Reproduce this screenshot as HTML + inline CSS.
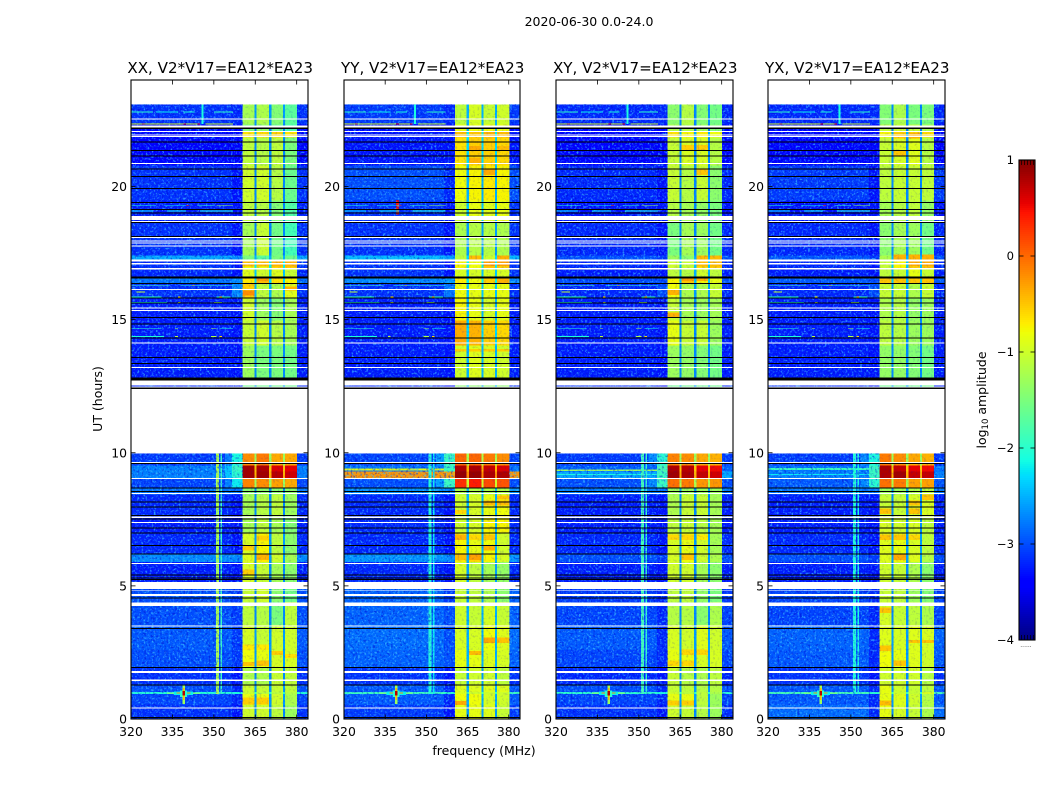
<!DOCTYPE html>
<html><head><meta charset="utf-8">
<style>
html,body{margin:0;padding:0;background:#fff}
svg{display:block}
text{font-family:"DejaVu Sans","Liberation Sans",sans-serif;fill:#000}
</style></head>
<body>
<svg id="fig" xmlns="http://www.w3.org/2000/svg" width="1050" height="800" viewBox="0 0 1050 800">
<defs>
<filter id="speck" x="0" y="0" width="100%" height="100%">
<feTurbulence type="fractalNoise" baseFrequency="0.48" numOctaves="2" seed="7"/>
<feColorMatrix type="matrix" values="0 0 0 0 0.05  0 0 0 0 0.55  0 0 0 0 1  2.6 2.6 0 0 -2.6"/>
</filter>
<filter id="speckDark" x="0" y="0" width="100%" height="100%">
<feTurbulence type="fractalNoise" baseFrequency="0.45" numOctaves="2" seed="23"/>
<feColorMatrix type="matrix" values="0 0 0 0 0  0 0 0 0 0  0 0 0 0 0.6  3 3 0 0 -3.1"/>
</filter>
</defs>
<text x="589" y="26" font-size="12.5" text-anchor="middle">2020-06-30 0.0-24.0</text>
<text x="484" y="755" font-size="12.5" text-anchor="middle">frequency (MHz)</text>
<text transform="translate(102,399) rotate(-90)" font-size="12.5" text-anchor="middle">UT (hours)</text>
<text transform="translate(986,400) rotate(-90)" font-size="12.5" text-anchor="middle">log<tspan font-size="8.5" dy="2">10</tspan><tspan dy="-2"> amplitude</tspan></text>
<g id="panels"></g>
<g id="cbar"></g>
</svg>
<script>
// ---- Axis ticks and labels
const freqTicks = [320, 335, 350, 365, 380];
const utTicks = [0, 5, 10, 15, 20];
const cbarTicks = [1, 0, -1, -2, -3, -4];
const panelTitles = ["XX, V2*V17=EA12*EA23", "YY, V2*V17=EA12*EA23", "XY, V2*V17=EA12*EA23", "YX, V2*V17=EA12*EA23"];

// ---- Time boundaries (UT hours) of the bands, top to bottom
const utEdges = [23.08,22.33,22.06,21.84,20.79,19.47,18.65,17.41,17.26,16.92,16.55,16.36,15.83,14.97,14.03,12.83,12.40,9.98,9.53,9.30,9.04,8.67,8.44,7.62,6.98,6.19,5.89,5.14,4.39,3.53,2.59,1.95,1.28,1.01,0.94,0.53,0];

// ---- Frequency blocks: edges in MHz and which band column feeds each block
const freqEdges = [320,350.7,351.8,352.4,352.9,356.5,360.4,364.7,365.5,370,370.8,375,375.8,380.2,384.1];
const freqSource = ["bg","bg","bg","bg","bg","ramp","b1","gap","b2","gap","b3","gap","b4","bg"];

// ---- log10 amplitude per band: bg, ramp, b1, b2, b3, b4, gap
const xxValues = [
[-3.15,-3.2,-1.25,-1.2,-1.45,-1.7,-2.6],[-3.4,-3.4,-1.5,-1.4,-1.6,-1.8,-2.8],[-3.4,-3.4,-0.65,-0.6,-0.55,-0.65,-2.4],[-3.4,-3.4,-1.1,-1.15,-1.1,-1.5,-2.7],
[-3.15,-3.3,-1.0,-1.0,-1.15,-1.6,-2.7],[-3.25,-3.3,-1.1,-1.15,-1.45,-1.75,-2.7],[-3.15,-3.3,-1.25,-1.05,-1.55,-1.85,-2.7],[-2.55,-2.7,-1.5,-1.7,-1.5,-1.6,-2.5],
[-3.15,-3.3,-0.8,-0.85,-0.6,-0.55,-2.2],[-3.2,-3.3,-0.9,-1.0,-0.9,-1.05,-2.4],[-2.8,-2.7,-0.7,-0.45,-0.65,-0.75,-2.3],[-3.15,-2.7,-0.55,-1.1,-1.2,-0.9,-2.5],
[-3.25,-3.3,-1.0,-1.3,-1.45,-1.25,-2.7],[-3.25,-3.3,-1.05,-1.0,-1.15,-1.25,-2.7],[-3.25,-3.3,-1.3,-1.5,-1.5,-1.55,-2.7],[-3.2,-3.3,-1.6,-1.6,-1.6,-1.6,-2.6],
null,
[-3.1,-2.1,-0.2,-0.1,-0.35,-0.35,-1.3],[-2.75,-1.9,0.85,0.8,0.6,0.55,-0.5],[-2.75,-2.0,0.85,0.85,0.75,0.65,-0.4],[-3.05,-2.2,-0.15,-0.2,-0.3,-0.35,-1.3],
[-2.8,-2.8,-1.4,-1.4,-1.4,-1.4,-2.7],[-3.2,-3.3,-1.25,-1.15,-1.1,-1.3,-2.7],[-3.25,-3.3,-1.25,-1.1,-1.25,-1.45,-2.7],[-3.2,-3.3,-0.95,-0.75,-1.1,-1.4,-2.6],
[-2.7,-2.7,-0.9,-0.7,-1.0,-1.25,-2.6],[-3.25,-3.3,-0.95,-1.05,-1.25,-1.4,-2.7],[-3.0,-3.1,-1.05,-1.0,-1.4,-1.55,-2.7],[-3.0,-3.1,-1.1,-1.15,-1.5,-1.1,-2.7],
[-2.95,-3.1,-0.95,-1.05,-1.0,-1.0,-2.6],[-3.0,-3.1,-0.8,-0.85,-0.95,-0.95,-2.6],[-3.15,-3.3,-1.2,-1.2,-1.05,-1.1,-2.7],[-3.0,-3.2,-1.0,-1.05,-1.05,-1.1,-2.6],
[-2.05,-2.1,-1.0,-1.1,-1.1,-1.15,-2.0],[-3.05,-3.2,-0.85,-0.85,-1.0,-1.2,-2.6],[-3.15,-3.3,-1.0,-1.0,-1.1,-1.3,-2.7]];
const yyValues = [
[-3.1,-3.2,-1.1,-0.95,-1.05,-1.0,-2.5],[-3.35,-3.4,-0.85,-0.85,-0.8,-0.85,-2.5],[-3.3,-3.3,-0.45,-0.5,-0.4,-0.45,-2.2],[-3.3,-3.3,-0.65,-0.55,-0.55,-0.6,-2.3],
[-3.0,-3.2,-0.8,-0.75,-0.7,-0.75,-2.5],[-3.15,-3.3,-1.0,-0.85,-0.9,-0.85,-2.4],[-3.15,-3.3,-1.2,-1.15,-1.15,-1.2,-2.6],[-2.45,-2.6,-1.1,-1.1,-1.0,-1.0,-2.3],
[-3.15,-3.3,-0.75,-0.8,-0.5,-0.55,-2.2],[-3.15,-3.3,-0.95,-0.95,-0.95,-0.95,-2.4],[-2.7,-2.6,-0.7,-0.8,-0.55,-0.4,-2.2],[-3.15,-2.8,-0.8,-0.85,-0.85,-0.85,-2.4],
[-3.25,-3.3,-0.75,-0.85,-0.95,-0.85,-2.5],[-3.25,-3.3,-0.35,-0.4,-0.55,-0.6,-2.3],[-3.25,-3.3,-1.0,-0.9,-0.95,-1.0,-2.5],[-3.2,-3.3,-1.4,-1.4,-1.4,-1.4,-2.5],
null,
[-3.05,-1.9,0.0,0.0,-0.1,-0.2,-1.2],[-2.8,-1.9,0.8,0.8,0.7,0.6,-0.4],[-0.25,-0.3,0.9,0.9,0.8,0.8,-0.2],[-3.0,-1.9,0.3,0.4,0.15,0.1,-1.0],
[-2.65,-2.7,-1.2,-1.2,-1.2,-1.2,-2.5],[-3.2,-3.3,-1.0,-0.95,-0.85,-0.8,-2.5],[-3.2,-3.3,-1.0,-0.95,-0.75,-0.75,-2.5],[-3.2,-3.3,-0.75,-0.85,-0.8,-1.0,-2.5],
[-2.65,-2.7,-0.7,-0.6,-0.75,-0.95,-2.5],[-3.2,-3.3,-0.95,-1.1,-1.25,-1.35,-2.6],[-2.9,-3.1,-1.05,-1.1,-1.2,-1.4,-2.6],[-2.9,-3.0,-1.0,-1.05,-0.95,-1.05,-2.5],
[-2.85,-3.0,-0.95,-0.95,-0.8,-0.9,-2.5],[-2.9,-3.0,-0.85,-0.85,-0.9,-0.95,-2.5],[-3.15,-3.3,-1.05,-1.0,-1.0,-1.1,-2.6],[-2.95,-3.2,-0.9,-0.9,-0.9,-0.9,-2.5],
[-1.9,-2.0,-0.9,-1.0,-1.0,-1.0,-1.9],[-2.95,-3.2,-0.8,-0.8,-0.95,-1.0,-2.5],[-3.1,-3.3,-0.85,-0.85,-0.9,-1.05,-2.6]];
const xyValues = [
[-3.2,-3.2,-1.4,-1.15,-1.45,-1.55,-2.7],[-3.45,-3.4,-1.2,-1.2,-1.3,-1.45,-2.8],[-3.4,-3.4,-0.65,-0.75,-0.7,-0.8,-2.5],[-3.4,-3.4,-1.05,-0.95,-0.95,-1.15,-2.7],
[-3.2,-3.3,-1.05,-1.15,-1.05,-1.4,-2.7],[-3.3,-3.3,-1.15,-1.25,-1.35,-1.5,-2.7],[-3.2,-3.3,-1.5,-1.25,-1.3,-1.55,-2.7],[-3.0,-3.1,-1.3,-1.4,-0.8,-0.6,-2.5],
[-3.2,-3.3,-1.0,-1.05,-0.65,-0.55,-2.4],[-3.25,-3.3,-1.1,-1.15,-1.0,-1.1,-2.5],[-3.0,-3.0,-0.75,-0.5,-0.75,-0.85,-2.4],[-3.2,-3.0,-0.8,-1.2,-1.2,-1.05,-2.6],
[-3.25,-3.3,-1.05,-1.25,-1.3,-1.25,-2.7],[-3.25,-3.3,-0.85,-1.05,-1.05,-1.3,-2.7],[-3.25,-3.3,-1.3,-1.35,-1.45,-1.55,-2.7],[-3.2,-3.3,-1.6,-1.6,-1.6,-1.6,-2.6],
null,
[-3.1,-2.0,-0.15,-0.2,-0.35,-0.4,-1.3],[-2.9,-1.8,0.8,0.75,0.55,0.5,-0.5],[-2.55,-1.9,0.85,0.8,0.7,0.65,-0.4],[-3.0,-1.9,-0.05,-0.1,-0.25,-0.25,-1.2],
[-2.75,-2.8,-1.3,-1.3,-1.3,-1.3,-2.6],[-3.25,-3.3,-1.2,-1.05,-1.05,-1.25,-2.7],[-3.25,-3.3,-1.1,-1.05,-1.15,-1.25,-2.7],[-3.2,-3.3,-0.95,-0.85,-1.0,-1.25,-2.6],
[-3.0,-3.1,-0.95,-0.8,-1.0,-1.2,-2.6],[-3.25,-3.3,-1.0,-1.0,-1.25,-1.4,-2.7],[-3.1,-3.2,-1.1,-1.1,-1.35,-1.5,-2.7],[-3.05,-3.2,-1.15,-1.15,-1.4,-1.2,-2.7],
[-2.95,-3.2,-0.95,-1.0,-0.9,-1.0,-2.6],[-3.05,-3.2,-0.85,-0.85,-0.95,-0.95,-2.6],[-3.2,-3.3,-1.05,-1.15,-1.2,-1.1,-2.7],[-3.0,-3.2,-1.05,-1.1,-1.15,-1.15,-2.6],
[-2.0,-2.1,-1.0,-1.1,-1.1,-1.2,-2.0],[-3.05,-3.2,-0.85,-0.85,-1.1,-1.3,-2.6],[-3.15,-3.3,-1.0,-1.05,-1.15,-1.3,-2.7]];
const yxValues = [
[-3.2,-3.2,-1.45,-1.2,-1.5,-1.5,-2.7],[-3.4,-3.4,-1.1,-1.05,-1.1,-1.25,-2.8],[-3.4,-3.4,-0.75,-0.55,-0.55,-0.6,-2.5],[-3.4,-3.4,-1.05,-0.95,-0.9,-1.15,-2.7],
[-3.1,-3.3,-1.1,-1.05,-1.05,-1.1,-2.7],[-3.3,-3.3,-1.25,-1.15,-1.1,-1.35,-2.7],[-3.2,-3.3,-1.4,-1.25,-1.3,-1.55,-2.7],[-2.95,-3.1,-1.2,-1.1,-0.9,-0.8,-2.5],
[-3.2,-3.3,-1.05,-0.75,-0.55,-0.5,-2.4],[-3.25,-3.3,-1.1,-1.05,-0.85,-1.05,-2.5],[-2.95,-3.0,-0.85,-0.8,-0.65,-0.8,-2.4],[-3.2,-3.0,-1.05,-1.05,-1.2,-1.05,-2.6],
[-3.25,-3.3,-1.2,-1.15,-1.35,-1.3,-2.7],[-3.25,-3.3,-1.1,-1.15,-1.3,-1.3,-2.7],[-3.25,-3.3,-1.35,-1.35,-1.45,-1.55,-2.7],[-3.2,-3.3,-1.6,-1.6,-1.6,-1.6,-2.6],
null,
[-3.1,-2.1,-0.1,-0.2,-0.35,-0.4,-1.3],[-2.8,-1.9,0.8,0.7,0.55,0.5,-0.5],[-2.75,-1.9,0.8,0.85,0.7,0.7,-0.4],[-2.95,-2.0,-0.05,-0.1,-0.3,-0.3,-1.2],
[-2.8,-2.8,-1.3,-1.3,-1.2,-1.1,-2.6],[-3.25,-3.3,-1.05,-1.05,-0.95,-0.95,-2.7],[-3.25,-3.3,-0.95,-1.0,-0.95,-1.1,-2.7],[-3.2,-3.3,-0.9,-0.85,-0.95,-1.1,-2.6],
[-3.0,-3.1,-0.9,-0.75,-0.9,-1.15,-2.6],[-3.25,-3.3,-1.0,-1.05,-1.2,-1.4,-2.7],[-3.05,-3.2,-1.05,-1.1,-1.3,-1.45,-2.7],[-3.05,-3.2,-0.95,-1.05,-1.1,-1.2,-2.7],
[-2.9,-3.2,-0.9,-0.95,-0.9,-0.95,-2.6],[-2.95,-3.2,-0.8,-0.85,-0.9,-1.0,-2.6],[-3.15,-3.3,-1.0,-1.0,-1.0,-1.15,-2.7],[-2.95,-3.2,-0.85,-1.0,-1.05,-1.1,-2.6],
[-1.85,-2.0,-0.85,-1.0,-1.05,-0.95,-1.9],[-2.95,-3.2,-0.85,-0.9,-1.0,-1.15,-2.6],[-2.85,-3.2,-0.85,-0.95,-1.05,-1.2,-2.7]];
const panelValues = [xxValues, yyValues, xyValues, yxValues];

// ---- Warm patches inside the bright bands: utLo, utHi, subband (0-3), log10 amplitude
const xxPatches = [[17.0,17.2,0,-0.45],[17.0,17.2,1,-0.45],[17.0,17.2,2,-0.4],[17.0,17.2,3,-0.4],[16.45,16.6,1,-0.3],[16.1,16.25,3,-0.4],[15.9,16.1,0,-0.2],[6.7,6.9,1,-0.55],[6.32,6.5,0,-0.55],[5.98,6.18,1,-0.4],[5.42,5.62,0,-0.55],[2.6,2.8,0,-0.7],[2.6,2.8,1,-0.7],[2.4,2.55,2,-0.55],[2.3,2.45,3,-0.65],[2.0,2.15,0,-0.5],[2.0,2.2,1,-0.5],[0.55,0.8,0,-0.55],[0.55,0.8,1,-0.55]];
const yyPatches = [[21.88,22.05,0,-0.45],[21.33,21.53,1,-0.35],[21.33,21.53,3,-0.45],[20.88,21.08,1,-0.4],[20.43,20.63,2,-0.35],[17.25,17.4,1,-0.45],[17.25,17.4,3,-0.4],[17.01,17.2,2,-0.3],[17.01,17.2,3,-0.3],[13.8,13.9,0,-0.55],[13.8,13.9,1,-0.55],[13.8,13.9,2,-0.55],[13.8,13.9,3,-0.55],[8.25,8.4,3,-0.5],[8.01,8.2,2,-0.45],[8.01,8.2,3,-0.45],[7.7,7.85,0,-0.6],[6.73,6.93,0,-0.4],[6.73,6.93,1,-0.6],[6.73,6.93,2,-0.5],[6.32,6.52,2,-0.4],[5.98,6.18,0,-0.45],[5.98,6.18,1,-0.3],[2.86,3.06,2,-0.35],[2.86,3.06,3,-0.5],[2.4,2.55,1,-0.45],[0.52,0.68,0,-0.35]];
const xyPatches = [[21.36,21.56,1,-0.55],[21.36,21.56,2,-0.55],[20.43,20.63,2,-0.5],[17.0,17.4,2,-0.45],[17.0,17.4,3,-0.45],[16.45,16.62,1,-0.3],[16.45,16.62,2,-0.4],[15.92,16.12,0,-0.4],[15.06,15.26,0,-0.4],[6.73,6.93,0,-0.6],[6.73,6.93,1,-0.6],[6.73,6.93,2,-0.7],[5.98,6.18,1,-0.5],[2.41,2.61,1,-0.6],[2.41,2.61,2,-0.6],[2.0,2.2,0,-0.6],[2.0,2.2,1,-0.6],[0.5,0.7,0,-0.55],[0.5,0.7,1,-0.55]];
const yxPatches = [[21.81,22.01,1,-0.5],[21.81,22.01,2,-0.4],[21.14,21.34,1,-0.5],[17.24,17.44,1,-0.4],[17.24,17.44,2,-0.4],[17.24,17.44,3,-0.4],[17.01,17.21,2,-0.35],[17.01,17.21,3,-0.35],[16.37,16.55,0,-0.5],[16.37,16.55,1,-0.5],[16.37,16.55,2,-0.5],[16.37,16.55,3,-0.5],[8.01,8.21,2,-0.5],[8.23,8.43,3,-0.5],[7.7,7.9,0,-0.5],[7.7,7.9,2,-0.5],[6.73,6.93,0,-0.5],[6.73,6.93,1,-0.5],[6.73,6.93,2,-0.6],[5.98,6.18,1,-0.35],[3.99,4.19,0,-0.5],[2.56,2.76,0,-0.5],[2.86,2.96,2,-0.5],[2.86,2.96,3,-0.5],[2.0,2.2,1,-0.5],[0.5,0.7,0,-0.45]];
const panelPatches = [xxPatches, yyPatches, xyPatches, yxPatches];
const subbandColumns = [6, 8, 10, 12];

// ---- Narrow interference lines (UT span, then per-panel level)
const rfiSpan = [0.7, 9.98];
const rfiAByPanel = [-1.2, -2.05, -1.85, -2.05];
const rfiBByPanel = [-1.9, -2.2, -1.95, -2.1];

// ---- Short interference features: freqLo, freqHi, utLo, utHi, log10 amplitude
const sharedFeatures = [
[345.5,346.2,22.35,23.08,-2.1],
[320,328,22.78,22.81,-2.0],[329,337,22.78,22.81,-2.2],[339,343,22.78,22.81,-2.1],[350,357,22.78,22.81,-2.0],
[320,345,22.33,22.37,-0.9],[347,357,22.33,22.37,-1.0],[324,325,22.33,22.37,-0.2],[339,340,22.33,22.37,0.6],[344,345,22.33,22.37,0.5],
[320,329,19.28,19.31,-2.1],[332,340,19.28,19.31,-2.2],[344,350,19.28,19.31,-2.0],[351,357,19.28,19.31,-1.4],[340,341,19.28,19.31,0.3],
[320,328,19.06,19.09,-2.3],[333,340,19.06,19.09,-2.2],[345,357,19.06,19.09,-2.1],
[320,334,16.26,16.29,-1.9],[338,357,16.26,16.29,-2.0],[342,343,16.26,16.29,-0.7],[322,325,16.02,16.06,-1.1],
[320,331,15.84,15.87,-2.0],[337,338,15.84,15.87,-0.7],[351,356,15.84,15.87,-2.0],[352,353,15.84,15.87,-0.5],
[320,333,15.63,15.66,-2.1],[337,338,15.63,15.66,-1.0],[350,353,15.63,15.66,-1.4],
[320,331,14.66,14.69,-2.0],[336,337,14.66,14.69,-1.2],[349,351,14.66,14.69,-1.3],[352,357,14.66,14.69,-2.1],
[320,332,14.35,14.38,-2.1],[336,337,14.35,14.38,-1.1],[349,351,14.35,14.38,-1.2],[352,353,14.35,14.38,-0.6],
[333,345,0.94,1.0,-1.6],[335.5,342.5,0.9,1.04,-2.2],[336.5,341.5,0.96,1.0,-0.2],
[337.8,340.2,0.82,1.08,-2.0],[338.6,339.5,0.56,1.3,-1.3],[338.8,339.3,0.72,1.16,-0.4],[338.6,339.5,0.88,1.06,0.75]];
const xxFeatures = [[354,356.5,8.67,9.98,-2.75],[354,356.5,9.04,9.53,-2.4]];
const yyFeatures = [[339,340,18.95,19.5,0.45],[320,356.5,9.33,9.40,-0.85],[353.5,356.5,9.53,9.98,-2.6],[353.5,356.5,8.67,9.04,-2.6]];
const xyFeatures = [[320,356.5,9.31,9.38,-1.25],[320,356.5,9.16,9.2,-2.1],[353.5,356.5,9.53,9.98,-2.7],[353.5,356.5,8.67,9.04,-2.7]];
const yxFeatures = [[320,356.5,9.35,9.42,-1.9],[320,356.5,9.16,9.2,-2.2],[353.5,356.5,9.53,9.98,-2.7],[353.5,356.5,8.67,9.04,-2.7]];
const panelFeatures = [xxFeatures, yyFeatures, xyFeatures, yxFeatures];

// ---- Flagged time ranges drawn as white / black stripes (UT hours lo, hi)
const whiteFlags = [[22.52,22.56],[22.21,22.30],[22.04,22.08],[21.91,21.95],[21.85,21.89],[20.85,20.89],[18.75,18.89],[18.67,18.71],[18.06,18.10],[17.93,17.97],[17.85,17.89],[17.75,17.79],[17.19,17.26],[17.08,17.12],[16.89,16.93],[16.12,16.15],[15.41,15.45],[15.33,15.37],[14.11,14.15],[13.18,13.22],[12.53,12.72],[12.46,12.49],[9.61,9.65],[9.01,9.05],[8.45,8.49],[7.55,7.61],[7.36,7.40],[5.82,5.86],[4.88,5.14],[4.82,4.85],[4.62,4.69],[4.24,4.38],[3.48,3.52],[1.73,1.80],[1.42,1.48],[0.40,0.44]];
const blackFlags = [[22.16,22.21],[21.65,21.69],[21.33,21.37],[21.13,21.17],[20.64,20.68],[20.36,20.40],[19.90,19.94],[19.38,19.42],[19.12,19.16],[18.98,19.02],[18.63,18.67],[18.11,18.15],[16.55,16.62],[16.33,16.37],[15.79,15.83],[15.60,15.64],[15.06,15.10],[14.81,14.85],[14.29,14.33],[13.55,13.59],[13.33,13.37],[12.72,12.83],[12.40,12.46],[9.57,9.61],[8.65,8.69],[8.52,8.56],[8.13,8.17],[7.95,7.99],[7.63,7.67],[7.50,7.54],[7.16,7.20],[6.97,7.01],[6.50,6.54],[6.17,6.21],[5.39,5.43],[5.28,5.32],[5.22,5.26],[4.53,4.57],[3.38,3.42],[1.92,1.96],[1.26,1.30],[0.03,0.07]];

// ---- Layout
const panelLefts = [131, 344, 556, 768];
const panelRights = [308, 520, 733, 945];
const plotTop = 80, plotBottom = 719;
const cbLeft = 1019, cbRight = 1035, cbTop = 160, cbBottom = 640;
const freqMin = 320, freqMax = 384.1, utMin = 0, utMax = 24, vMin = -4, vMax = 1;
const NS = "http://www.w3.org/2000/svg";

function make(tag, parent, attrs){
  const el = document.createElementNS(NS, tag);
  for (const k in attrs) el.setAttribute(k, attrs[k]);
  parent.appendChild(el);
  return el;
}
function clamp01(v){ return Math.max(0, Math.min(1, v)); }
function jet(v){
  const t = clamp01((v - vMin) / (vMax - vMin));
  const r = t < .35 ? 0 : t < .66 ? (t - .35) / .31 : t < .89 ? 1 : 1 - (t - .89) / .11 * .5;
  const g = t < .125 ? 0 : t < .375 ? (t - .125) / .25 : t < .64 ? 1 : t < .91 ? 1 - (t - .64) / .27 : 0;
  const b = t < .11 ? .5 + t / .11 * .5 : t < .34 ? 1 : t < .65 ? 1 - (t - .34) / .31 : 0;
  return "rgb(" + Math.round(r * 255) + "," + Math.round(g * 255) + "," + Math.round(b * 255) + ")";
}
function yScale(ut){ return plotBottom - (ut - utMin) / (utMax - utMin) * (plotBottom - plotTop); }
function xScale(p, f){ return panelLefts[p] + (f - freqMin) / (freqMax - freqMin) * (panelRights[p] - panelLefts[p]); }
const columnIndex = { bg: 0, ramp: 1, b1: 2, b2: 3, b3: 4, b4: 5, gap: 6 };

function drawBlock(g, p, fLo, fHi, utLo, utHi, v){
  const y0 = yScale(utHi), y1 = yScale(utLo), x0 = xScale(p, fLo), x1 = xScale(p, fHi);
  const el = make("rect", g, { x: x0.toFixed(2), y: y0.toFixed(2), width: (x1 - x0).toFixed(2), height: (y1 - y0).toFixed(2), fill: jet(v), "shape-rendering": "crispEdges" });
  
  
  return el;
}
function drawFlag(g, p, lo, hi, color){
  const x0 = panelLefts[p], x1 = panelRights[p], y0 = yScale(hi), y1 = yScale(lo);
  const el = make("rect", g, { x: x0, y: y0.toFixed(2), width: x1 - x0, height: (y1 - y0).toFixed(2), fill: color, "shape-rendering": "crispEdges" });
  
  
}
function drawLabel(g, x, y, text, anchor, size){
  const el = make("text", g, { x: x, y: y, "text-anchor": anchor, "font-size": size });
  el.textContent = text;
  return el;
}

const panelsRoot = document.getElementById("panels");
panelTitles.forEach(function(title, p){
  const g = make("g", panelsRoot, {});
  
  
  const cells = make("g", g, {});
  
  
  const values = panelValues[p];
  values.forEach(function(row, r){
    if (!row) return;
    freqSource.forEach(function(src, c){
      drawBlock(cells, p, freqEdges[c], freqEdges[c + 1], utEdges[r + 1], utEdges[r], row[columnIndex[src]]);
    });
  });
  // warm patches in the bright bands
  panelPatches[p].forEach(function(h){
    const c = subbandColumns[h[2]];
    drawBlock(cells, p, freqEdges[c], freqEdges[c + 1], h[0], h[1], h[3]);
  });
  // panel-specific structure near the bright bands
  panelFeatures[p].forEach(function(f){ drawBlock(cells, p, f[0], f[1], f[2], f[3], f[4]); });
  // narrow lines
  values.forEach(function(row, r){
    if (!row || utEdges[r] > rfiSpan[1] + 0.01 || utEdges[r + 1] < rfiSpan[0]) return;
    const lo = Math.max(utEdges[r + 1], rfiSpan[0]);
    drawBlock(cells, p, freqEdges[1], freqEdges[2], lo, utEdges[r], rfiAByPanel[p]);
    drawBlock(cells, p, freqEdges[3], freqEdges[4], lo, utEdges[r], rfiBByPanel[p]);
  });
  // speckle texture over the quiet part of the spectrum, very light over the bright bands
  const yTex = yScale(23.08), hTex = yScale(0) - yTex;
  [[320, 360.4, "speck", .7], [320, 360.4, "speckDark", .45], [380.2, 384.1, "speck", .7], [380.2, 384.1, "speckDark", .45], [360.4, 380.2, "speckDark", .14]].forEach(function(t){
    const x0 = xScale(p, t[0]), x1 = xScale(p, t[1]);
    const tex = make("rect", g, { x: x0.toFixed(2), y: yTex, width: (x1 - x0).toFixed(2), height: hTex, filter: "url(#" + t[2] + ")", opacity: t[3] });
    
    
  });
  const blank = make("rect", g, { x: panelLefts[p], y: yScale(12.40), width: panelRights[p] - panelLefts[p], height: yScale(9.98) - yScale(12.40), fill: "#fff" });
  
  
  // features
  const feats = make("g", g, {});
  
  
  sharedFeatures.forEach(function(f){ drawBlock(feats, p, f[0], f[1], f[2], f[3], f[4]); });
  // flags
  const flags = make("g", g, {});
  
  
  whiteFlags.forEach(function(f){ drawFlag(flags, p, f[0], f[1], "#fff"); });
  blackFlags.forEach(function(f){ drawFlag(flags, p, f[0], f[1], "#000"); });
  // frame
  const left = panelLefts[p], right = panelRights[p];
  const frame = make("rect", g, { x: left, y: plotTop, width: right - left, height: plotBottom - plotTop, fill: "none", stroke: "#000", "stroke-width": 1.1 });
  
  
  // ticks
  freqTicks.forEach(function(t){
    const x = xScale(p, t);
    const a = make("line", g, { x1: x, x2: x, y1: plotTop, y2: plotTop + 4.5, stroke: "#000", "stroke-width": .8 });
    
    
    const b = make("line", g, { x1: x, x2: x, y1: plotBottom, y2: plotBottom - 4.5, stroke: "#000", "stroke-width": .8 });
    
    
    const lab = drawLabel(g, x, 736, String(t), "middle", 12.4);
    
    
  });
  utTicks.forEach(function(t){
    const y = yScale(t);
    const a = make("line", g, { x1: left, x2: left + 4.5, y1: y, y2: y, stroke: "#000", "stroke-width": .8 });
    
    
    const b = make("line", g, { x1: right, x2: right - 4.5, y1: y, y2: y, stroke: "#000", "stroke-width": .8 });
    
    
    const lab = drawLabel(g, left - 4, y + 4.5, String(t), "end", 12.4);
    
    
  });
  const tt = drawLabel(g, (left + right) / 2 + 0.7, 73, title, "middle", 15.1);
  
  
});

// ---- Colour bar
const cb = document.getElementById("cbar");
function cbY(v){ return cbBottom - (v - vMin) / (vMax - vMin) * (cbBottom - cbTop); }
for (let y = cbTop; y < cbBottom; y += 2) {
  const v = vMax - (y + 1 - cbTop) / (cbBottom - cbTop) * (vMax - vMin);
  const s = make("rect", cb, { x: cbLeft, y: y, width: cbRight - cbLeft, height: 2, fill: jet(v), "shape-rendering": "crispEdges" });
  
  
}
const cbFrame = make("rect", cb, { x: cbLeft, y: cbTop, width: cbRight - cbLeft, height: cbBottom - cbTop, fill: "none", stroke: "#000", "stroke-width": 1.1 });


cbarTicks.forEach(function(t){
  const y = cbY(t);
  const a = make("line", cb, { x1: cbLeft, x2: cbLeft + 4.5, y1: y, y2: y, stroke: "#000", "stroke-width": .8 });
  
  
  const b = make("line", cb, { x1: cbRight, x2: cbRight - 4.5, y1: y, y2: y, stroke: "#000", "stroke-width": .8 });
  
  
  const lab = drawLabel(cb, cbLeft - 5, y + 4, String(t).replace("-", "\u2212"), "end", 11.6);
  
  
});
[1022, 1025, 1028, 1031, 1034].forEach(function(x){
  const top = make("line", cb, { x1: x - 0.5, x2: x - 0.5, y1: cbTop, y2: cbTop + 5, stroke: "#000", "stroke-width": .7 });
  
  
  const bot = make("line", cb, { x1: x - 0.5, x2: x - 0.5, y1: cbBottom, y2: cbBottom - 5, stroke: "#000", "stroke-width": .7 });
  
  
});
const dots = drawLabel(cb, 1026, 647, "......", "middle", 6);


dots.setAttribute('fill-opacity', '.8');
</script>
</body></html>
